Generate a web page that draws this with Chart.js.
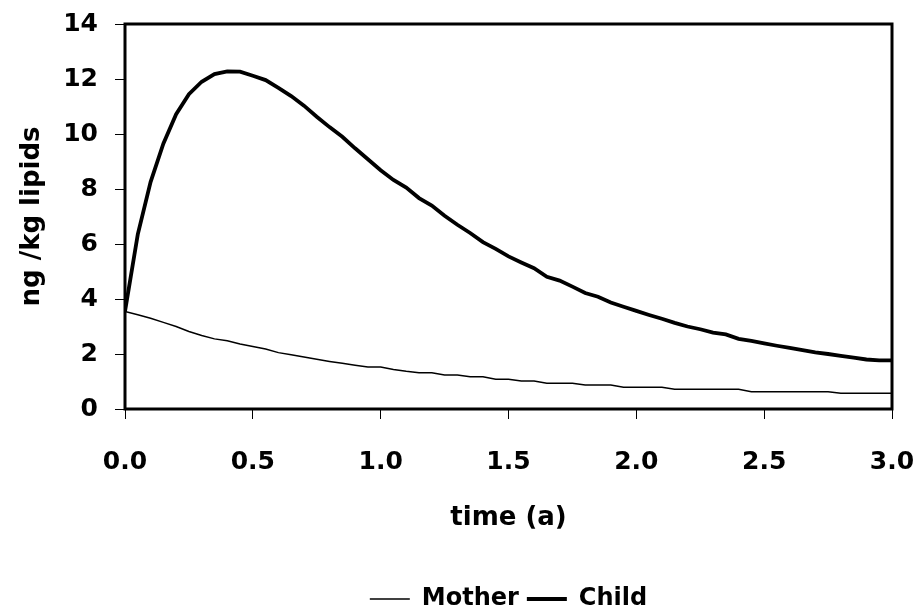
<!DOCTYPE html>
<html>
<head>
<meta charset="utf-8">
<script src="https://cdn.jsdelivr.net/npm/chart.js@4/dist/chart.umd.min.js"></script>
<style>
  html, body { margin: 0; padding: 0; background: #fff; }
  #wrap { width: 920px; height: 614px; position: relative; }
</style>
</head>
<body>
<div id="wrap"><canvas id="c"></canvas></div>
<script>
// time (years), sampled every 0.05 a
const times = [0.00,0.05,0.10,0.15,0.20,0.25,0.30,0.35,0.40,0.45,0.50,0.55,0.60,0.65,0.70,0.75,0.80,0.85,0.90,0.95,
  1.00,1.05,1.10,1.15,1.20,1.25,1.30,1.35,1.40,1.45,1.50,1.55,1.60,1.65,1.70,1.75,1.80,1.85,1.90,1.95,
  2.00,2.05,2.10,2.15,2.20,2.25,2.30,2.35,2.40,2.45,2.50,2.55,2.60,2.65,2.70,2.75,2.80,2.85,2.90,2.95,3.00];

const motherValues = [3.55,3.43,3.30,3.15,3.00,2.82,2.67,2.55,2.48,2.36,2.27,2.18,2.05,1.97,1.89,1.81,1.73,1.66,1.59,1.53,
  1.53,1.44,1.37,1.32,1.32,1.24,1.24,1.17,1.17,1.08,1.08,1.02,1.02,0.94,0.94,0.94,0.87,0.87,0.87,0.79,
  0.79,0.79,0.79,0.72,0.72,0.72,0.72,0.72,0.72,0.63,0.63,0.63,0.63,0.63,0.63,0.63,0.57,0.57,0.57,0.57,0.57];

const childValues = [3.55,6.35,8.25,9.65,10.72,11.45,11.90,12.18,12.28,12.27,12.12,11.96,11.68,11.38,11.03,10.63,10.25,9.90,9.48,9.08,
  8.68,8.33,8.05,7.67,7.40,7.03,6.70,6.40,6.07,5.82,5.55,5.33,5.12,4.81,4.67,4.45,4.22,4.08,3.87,3.72,
  3.57,3.42,3.28,3.13,3.00,2.90,2.78,2.71,2.55,2.48,2.39,2.30,2.22,2.14,2.06,2.00,1.93,1.87,1.80,1.77,1.77];

const seriesNames = ["Mother", "Child"];
const xTickValues = [0, 0.5, 1.0, 1.5, 2.0, 2.5, 3.0];
const yTickValues = [0, 2, 4, 6, 8, 10, 12, 14];
const xTitle = "time (a)";
const yTitle = "ng /kg lipids";

const FONT = "'DejaVu Sans', sans-serif";

const toPoints = (vals) => vals.map((v, i) => ({ x: times[i], y: v }));

const framePlugin = {
  id: 'frame',
  afterDatasetsDraw(chart) {
    const { ctx, chartArea: a } = chart;
    ctx.save();
    ctx.strokeStyle = '#000';
    ctx.lineWidth = 3;
    ctx.strokeRect(a.left, a.top, a.right - a.left, a.bottom - a.top);
    ctx.restore();
  }
};

new Chart(document.getElementById('c'), {
  type: 'line',
  data: {
    datasets: [
      { label: seriesNames[0], data: toPoints(motherValues), borderColor: '#000', backgroundColor: '#000',
        borderWidth: 1.5, pointRadius: 0, tension: 0, fill: false },
      { label: seriesNames[1], data: toPoints(childValues), borderColor: '#000', backgroundColor: '#000',
        borderWidth: 3.8, pointRadius: 0, tension: 0, fill: false }
    ]
  },
  options: {
    responsive: true,
    maintainAspectRatio: false,
    animation: false,
    layout: { padding: { left: 0, right: 28, top: 24, bottom: -7 } },
    plugins: {
      tooltip: { enabled: false },
      legend: {
        position: 'bottom',
        fullSize: false,
        labels: {
          color: '#000',
          font: { family: FONT, size: 24, weight: 'bold' },
          usePointStyle: true,
          pointStyle: 'line',
          pointStyleWidth: 40,
          padding: 8
        }
      }
    },
    scales: {
      x: {
        type: 'linear',
        min: 0, max: 3,
        afterBuildTicks: (s) => { s.ticks = xTickValues.map(v => ({ value: v })); },
        afterFit: (s) => { s.height = 170; s.paddingLeft = 0; s.paddingRight = 0; },
        ticks: {
          color: '#000',
          font: { family: FONT, size: 25, weight: 'bold' },
          padding: 28,
          maxRotation: 0,
          autoSkip: false,
          callback: (v) => Number(v).toFixed(1)
        },
        grid: { drawOnChartArea: false, drawTicks: true, tickLength: 10, color: '#000', lineWidth: 1 },
        border: { display: false },
        title: {
          display: true, text: xTitle, color: '#000',
          font: { family: FONT, size: 26, weight: 'bold' },
          padding: { top: 0, bottom: 45 }
        }
      },
      y: {
        min: 0, max: 14,
        afterBuildTicks: (s) => { s.ticks = yTickValues.map(v => ({ value: v })); },
        afterFit: (s) => { s.width = 125; s.paddingTop = 0; s.paddingBottom = 0; },
        ticks: {
          color: '#000',
          font: { family: FONT, size: 25, weight: 'bold' },
          padding: 17,
          autoSkip: false
        },
        grid: { drawOnChartArea: false, drawTicks: true, tickLength: 10, color: '#000', lineWidth: 1 },
        border: { display: false },
        title: {
          display: true, text: yTitle, color: '#000',
          font: { family: FONT, size: 26, weight: 'bold' },
          padding: { top: 17, bottom: 0 }
        }
      }
    }
  },
  plugins: [framePlugin]
});
</script>
</body>
</html>
